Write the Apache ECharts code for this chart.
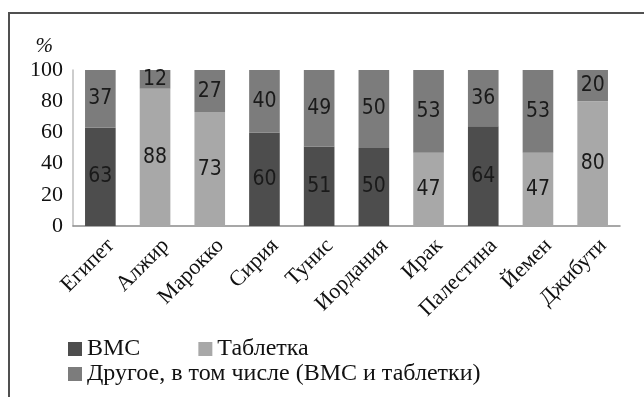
<!DOCTYPE html>
<html>
<head>
<meta charset="utf-8">
<script src="https://cdn.jsdelivr.net/npm/echarts@6/dist/echarts.min.js"></script>
<style>
  html, body { margin: 0; padding: 0; background: #fff; }
  #chart { width: 644px; height: 397px; }
</style>
</head>
<body>
<div id="chart"></div>
<script>
// Countries along the x axis
const countries = ['Египет', 'Алжир', 'Марокко', 'Сирия', 'Тунис', 'Иордания', 'Ирак', 'Палестина', 'Йемен', 'Джибути'];
// Share of the leading method (ВМС or таблетка), percent
const iudShare  = [63, null, null, 60, 51, 50, null, 64, null, null];
const pillShare = [null, 88, 73, null, null, null, 47, null, 47, 80];
// Remaining methods, percent
const otherShare = [37, 12, 27, 40, 49, 50, 53, 36, 53, 20];
const yTicks = [0, 20, 40, 60, 80, 100];

const serif = '"Liberation Serif", "Times New Roman", serif';
const narrow = '"Liberation Sans Narrow", "DejaVu Sans Condensed", "Arial Narrow", sans-serif';

const chart = echarts.init(document.getElementById('chart'), null, { renderer: 'canvas' });

function barSeries(name, data, color) {
  return {
    name: name,
    type: 'bar',
    stack: 'total',
    data: data,
    barCategoryGap: '44%',
    itemStyle: { color: color },
    label: {
      show: true,
      position: 'inside',
      color: '#1a1a1a',
      fontFamily: narrow,
      fontSize: 21,
      formatter: p => (p.value == null ? '' : p.value)
    },
    emphasis: { disabled: true }
  };
}

const legendText = { fontFamily: serif, fontSize: 24, color: '#111' };

chart.setOption({
  animation: false,
  backgroundColor: '#fff',
  graphic: [{
    type: 'rect',
    shape: { x: 9, y: 13, width: 700, height: 450 },
    style: { fill: 'none', stroke: '#505050', lineWidth: 2 },
    silent: true
  }],
  grid: { left: 73, right: 24, top: 70, bottom: 171 },
  legend: [{
    left: 63,
    top: 332,
    itemWidth: 14,
    itemHeight: 14,
    itemGap: 58,
    icon: 'rect',
    textStyle: legendText,
    data: ['ВМС', 'Таблетка']
  }, {
    left: 63,
    top: 357,
    itemWidth: 14,
    itemHeight: 14,
    icon: 'rect',
    textStyle: legendText,
    data: ['Другое, в том числе (ВМС и таблетки)']
  }],
  xAxis: {
    type: 'category',
    data: countries,
    axisLine: { show: true, lineStyle: { color: '#8a8a8a', width: 1.5 } },
    axisTick: { show: false },
    axisLabel: {
      rotate: 45,
      margin: 27,
      interval: 0,
      padding: [0, -15, 0, 0],
      fontFamily: serif,
      fontSize: 22,
      color: '#111'
    }
  },
  yAxis: {
    type: 'value',
    min: yTicks[0],
    max: yTicks[yTicks.length - 1],
    interval: 20,
    name: '%',
    nameLocation: 'end',
    nameGap: 13,
    nameTextStyle: { fontFamily: serif, fontSize: 21, fontStyle: 'italic', color: '#111', align: 'right', padding: [0, 20, 0, 0] },
    axisLine: { show: true, lineStyle: { color: '#bdbdbd', width: 1.5 } },
    axisTick: { show: false },
    splitLine: { show: false },
    axisLabel: {
      margin: 10,
      fontFamily: serif,
      fontSize: 22,
      color: '#111'
    }
  },
  series: [
    barSeries('ВМС', iudShare, '#4d4d4d'),
    barSeries('Таблетка', pillShare, '#a8a8a8'),
    barSeries('Другое, в том числе (ВМС и таблетки)', otherShare, '#7c7c7c')
  ]
});
</script>
</body>
</html>
